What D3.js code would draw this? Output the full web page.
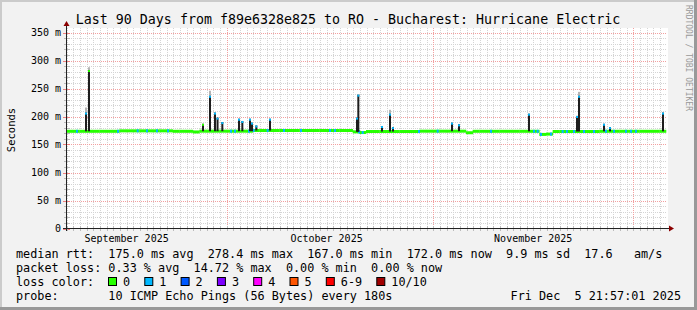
<!DOCTYPE html>
<html>
<head>
<meta charset="utf-8">
<script src="https://cdn.jsdelivr.net/npm/d3@7"></script>
<style>
body { margin: 0; background: #fff; }
svg { display: block; }
text { font-family: "DejaVu Sans Mono", monospace; white-space: pre; }
</style>
</head>
<body>
<div id="chart_area"></div>
<script>
//////////////////////DATA//////////////////////////

var title = "Last 90 Days from f89e6328e825 to RO - Bucharest: Hurricane Electric";
var startTime = Date.UTC(2025, 8, 6, 21, 57, 1);
var endTime = Date.UTC(2025, 11, 5, 21, 57, 1);
var yTicks = [0, 50, 100, 150, 200, 250, 300, 350];

// median rtt (ms) for each day of the period
var medianRtt = [
	173.6, 173.6, 173.6, 173.6, 173.6, 173.6, 173.6, 173.6,
	174.4, 174.4, 174.4, 174.4, 174.4, 174.4, 174.4, 174.4,
	173.6, 173.6, 173.6, 172.4,
	173.8, 173.8, 173.8, 173.8, 173.8, 173.8, 173.8, 173.8,
	175.0, 175.0, 175.0, 175.0, 175.0, 175.0, 175.0, 175.0, 175.0, 175.0, 175.0, 175.0, 175.0, 175.0, 175.0,
	172.6, 171.4,
	173.2, 173.2, 173.2, 173.2, 173.2, 173.2, 173.2, 173.2,
	173.8, 173.8, 173.8, 173.8, 173.8, 173.8, 173.8,
	171.0,
	173.6, 173.6, 173.6, 173.6, 173.6, 173.6, 173.6, 173.6, 173.6, 173.6,
	168.0, 168.6,
	173.2, 173.2, 173.2, 173.2, 173.2, 173.2, 173.2,
	173.6, 173.6, 173.6, 173.6, 173.6, 173.6, 173.6, 173.6, 173.6, 173.6
];

// moments (days after start) where 1 of 10 pings was lost
var lossDays = [1.5, 7.65, 10.6, 12.0, 13.5, 15.15, 24.6, 25.2, 27.3, 28.0, 30.1, 32.55, 35.1,
	39.45, 40.2, 43.8, 44.35, 52.8, 55.6, 63.6, 70.05, 70.6, 71.1, 72.6, 74.35, 75.0, 76.05,
	77.55, 79.05, 80.85, 82.05, 83.85, 84.6, 85.35];

// latency spikes: day after start, top of smoke (ms), light smoke top (ms), loss at top
var spikeDays = [2.85, 3.3, 20.4, 21.45, 22.2, 22.58, 23.3, 25.8, 26.3, 27.45, 27.75, 28.4, 30.45,
	43.5, 43.7, 47.25, 48.45, 48.9, 57.75, 58.8, 69.3, 76.5, 76.8, 80.55, 81.45, 89.4];
var spikeTops = [207, 283, 187, 237, 207, 198, 190, 196, 192, 196, 189, 184, 196,
	198, 239, 183, 205, 181, 189, 186, 205, 201, 237, 187, 181, 207];
var spikeHaze = [216, 288, 0, 246, 0, 0, 0, 0, 0, 0, 0, 0, 0,
	0, 0, 0, 212, 0, 0, 0, 0, 0, 244, 0, 0, 0];
var spikeLoss = [1, 0, 0, 1, 1, 1, 1, 1, 1, 1, 1, 1, 1,
	1, 1, 1, 1, 1, 1, 1, 1, 1, 1, 1, 1, 1];

var lossLabels = ["0", "1", "2", "3", "4", "5", "6-9", "10/10"];
var lossColors = ["#26ff00", "#00b8ff", "#0059ff", "#7e00ff", "#ff00ff", "#ff5500", "#ff0000", "#a10000"];

var rttLine = "median rtt:  175.0 ms avg  278.4 ms max  167.0 ms min  172.0 ms now  9.9 ms sd  17.6   am/s";
var lossLine = "packet loss: 0.33 % avg  14.72 % max  0.00 % min  0.00 % now";
var probeLine = "probe:       10 ICMP Echo Pings (56 Bytes) every 180s";
var stampLine = "Fri Dec  5 21:57:01 2025";

//////////////////////FRAME//////////////////////////

var frame_width = 697;
var frame_height = 310;
var DAY = 86400000;

var svg = d3.select("#chart_area").append("svg")
			.attr("width", frame_width)
			.attr("height", frame_height);

svg.append("rect").attr("width", frame_width).attr("height", frame_height).attr("fill", "#f2f2f2");
// shaded border like rrdtool
svg.append("rect").attr("x", 0).attr("y", 0).attr("width", frame_width).attr("height", 2).attr("fill", "#cbcbcb");
svg.append("rect").attr("x", 0).attr("y", 0).attr("width", 2).attr("height", frame_height).attr("fill", "#cbcbcb");
svg.append("rect").attr("x", 0).attr("y", frame_height - 3).attr("width", frame_width).attr("height", 3).attr("fill", "#999");
svg.append("rect").attr("x", frame_width - 3).attr("y", 0).attr("width", 3).attr("height", frame_height).attr("fill", "#999");

// scales
var xScale = d3.scaleUtc()
				.domain([new Date(startTime), new Date(endTime)])
				.range([66, 666]);
var yScale = d3.scaleLinear()
				.domain([0, 350])
				.range([228.5, 32.5]);

// plot background
svg.append("rect")
	.attr("x", 66).attr("y", 28)
	.attr("width", 602).attr("height", 200)
	.attr("fill", "#fff");

//////////////////////GRID//////////////////////////

var grid = svg.append("g");
var minorY = d3.range(0, 351, 10).filter(function(d){ return d % 50 != 0; });
grid.selectAll(".hminor").data(minorY).enter().append("line")
	.attr("x1", 67).attr("x2", 667)
	.attr("y1", function(d){ return Math.round(yScale(d)) + 0.5; })
	.attr("y2", function(d){ return Math.round(yScale(d)) + 0.5; })
	.attr("stroke", "#d4d4d4").attr("stroke-dasharray", "1,1");
var days = xScale.ticks(d3.utcDay.every(1));
grid.selectAll(".vminor").data(days).enter().append("line")
	.attr("x1", function(d){ return Math.round(xScale(d)) + 0.5; })
	.attr("x2", function(d){ return Math.round(xScale(d)) + 0.5; })
	.attr("y1", 28).attr("y2", 228)
	.attr("stroke", "#d4d4d4").attr("stroke-dasharray", "1,1");
grid.selectAll(".hmajor").data(yTicks.slice(1)).enter().append("line")
	.attr("x1", 67).attr("x2", 667)
	.attr("y1", function(d){ return Math.round(yScale(d)) + 0.5; })
	.attr("y2", function(d){ return Math.round(yScale(d)) + 0.5; })
	.attr("stroke", "#f2a0a0").attr("stroke-dasharray", "1,1");
var months = xScale.ticks(d3.utcMonth.every(1));
grid.selectAll(".vmajor").data(months).enter().append("line")
	.attr("x1", function(d){ return Math.round(xScale(d)) + 0.5; })
	.attr("x2", function(d){ return Math.round(xScale(d)) + 0.5; })
	.attr("y1", 28).attr("y2", 228)
	.attr("stroke", "#f2a0a0").attr("stroke-dasharray", "1,1");

//////////////////////DATA MARKS//////////////////////////

var marks = svg.append("g");

// median band
marks.selectAll(".med").data(medianRtt).enter().append("rect")
	.attr("x", function(d, i){ return xScale(new Date(startTime + i * DAY)); })
	.attr("width", function(d, i){ return xScale(new Date(startTime + (i + 1) * DAY)) - xScale(new Date(startTime + i * DAY)) + 0.3; })
	.attr("y", function(d){ return yScale(d) - 1.5; })
	.attr("height", 3)
	.attr("fill", lossColors[0]);

// single lost ping segments
marks.selectAll(".loss").data(lossDays).enter().append("rect")
	.attr("x", function(d){ return xScale(new Date(startTime + d * DAY)); })
	.attr("width", 2)
	.attr("y", function(d){ return yScale(medianRtt[Math.floor(d)]) - 1.5; })
	.attr("height", 3)
	.attr("fill", lossColors[1]);

// spikes: light smoke, dark smoke, median mark
var spikes = spikeDays.map(function(d, i){
	return {day: d, top: spikeTops[i], haze: spikeHaze[i], loss: spikeLoss[i]};
});
marks.selectAll(".haze").data(spikes.filter(function(s){ return s.haze > 0; })).enter().append("rect")
	.attr("x", function(d){ return xScale(new Date(startTime + d.day * DAY)); })
	.attr("width", 2)
	.attr("y", function(d){ return yScale(d.haze); })
	.attr("height", function(d){ return yScale(d.top) - yScale(d.haze); })
	.attr("fill", "#b4b4b4");
marks.selectAll(".smoke").data(spikes).enter().append("rect")
	.attr("x", function(d){ return xScale(new Date(startTime + d.day * DAY)); })
	.attr("width", 2)
	.attr("y", function(d){ return yScale(d.top); })
	.attr("height", function(d){ return yScale(medianRtt[Math.floor(d.day)]) - yScale(d.top); })
	.attr("fill", "#1e1e1e");
marks.selectAll(".peak").data(spikes).enter().append("rect")
	.attr("x", function(d){ return xScale(new Date(startTime + d.day * DAY)); })
	.attr("width", 2)
	.attr("y", function(d){ return yScale(d.top); })
	.attr("height", 2)
	.attr("fill", function(d){ return lossColors[d.loss]; });

//////////////////////AXES//////////////////////////

var axes = svg.append("g");
// ticks
axes.selectAll(".ytick").data(d3.range(0, 351, 10)).enter().append("line")
	.attr("x1", function(d){ return d % 50 == 0 ? 63 : 64; }).attr("x2", 70)
	.attr("y1", function(d){ return Math.round(yScale(d)) + 0.5; })
	.attr("y2", function(d){ return Math.round(yScale(d)) + 0.5; })
	.attr("stroke", function(d){ return d % 50 == 0 ? "#f08080" : "#bbb"; });
axes.selectAll(".xtick").data(days).enter().append("line")
	.attr("x1", function(d){ return Math.round(xScale(d)) + 0.5; })
	.attr("x2", function(d){ return Math.round(xScale(d)) + 0.5; })
	.attr("y1", 226).attr("y2", 231)
	.attr("stroke", "#bbb");
axes.append("line").attr("x1", 66.5).attr("x2", 66.5).attr("y1", 231).attr("y2", 24).attr("stroke", "#222");
axes.append("line").attr("x1", 63).attr("x2", 670).attr("y1", 228.5).attr("y2", 228.5).attr("stroke", "#222");
axes.append("path").attr("d", "M63.5,26 L69.5,26 L66.5,21 Z").attr("fill", "#8b0000");
axes.append("path").attr("d", "M669,225.5 L669,231.5 L674,228.5 Z").attr("fill", "#8b0000");

axes.selectAll(".ylabel").data(yTicks).enter().append("text")
	.attr("x", 61)
	.attr("y", function(d){ return yScale(d) + 3.5; })
	.attr("text-anchor", "end")
	.attr("font-size", "10px")
	.attr("fill", "#000")
	.text(function(d){ return d == 0 ? "0" : d + " m"; });

var labelMonths = [Date.UTC(2025, 8, 1), Date.UTC(2025, 9, 1), Date.UTC(2025, 10, 1)];
axes.selectAll(".xlabel").data(labelMonths).enter().append("text")
	.attr("x", function(d){ return xScale(new Date(d + 15 * DAY)); })
	.attr("y", 242)
	.attr("text-anchor", "middle")
	.attr("font-size", "10px")
	.attr("fill", "#000")
	.text(function(d){ return d3.utcFormat("%B %Y")(new Date(d)); });

svg.append("text")
	.attr("transform", "translate(15,130) rotate(-90)")
	.attr("text-anchor", "middle")
	.attr("font-size", "10.5px")
	.attr("fill", "#000")
	.text("Seconds");

svg.append("text")
	.attr("x", 348).attr("y", 23.5)
	.attr("text-anchor", "middle")
	.attr("font-size", "13.3px")
	.attr("fill", "#000")
	.text(title);

svg.append("text")
	.attr("transform", "translate(685.5,5) rotate(90)")
	.attr("font-size", "8px")
	.attr("fill", "#999")
	.text("RRDTOOL / TOBI OETIKER");

//////////////////////LEGEND//////////////////////////

var legend = svg.append("g").attr("font-size", "11.8px").attr("fill", "#000");
legend.append("text").attr("x", 16).attr("y", 258).text(rttLine);
legend.append("text").attr("x", 16).attr("y", 272).text(lossLine);
legend.append("text").attr("x", 16).attr("y", 286).text("loss color:");
legend.append("text").attr("x", 16).attr("y", 300).text(probeLine);
legend.append("text").attr("x", 681).attr("y", 300).attr("text-anchor", "end").text(stampLine);

var charW = 7.1;
var cursor = 108;
lossLabels.forEach(function(lab, i){
	legend.append("rect")
		.attr("x", cursor + 0.5).attr("y", 277.5)
		.attr("width", 8).attr("height", 8)
		.attr("fill", lossColors[i]).attr("stroke", "#000");
	legend.append("text").attr("x", cursor + 15).attr("y", 286).text(lab);
	cursor = cursor + 15 + (lab.length + 2) * charW;
});
</script>
</body>
</html>
